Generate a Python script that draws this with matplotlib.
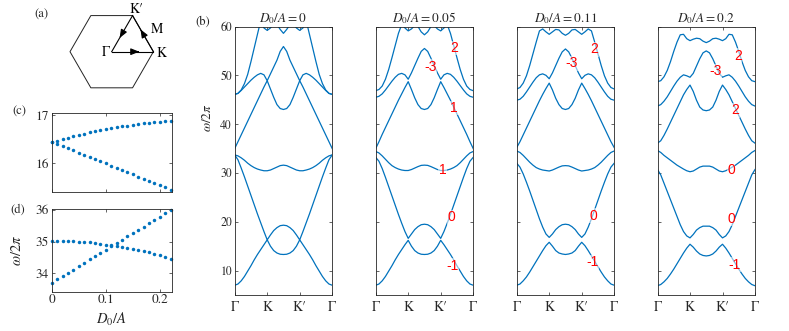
import numpy as np
import matplotlib
matplotlib.use('Agg')
import matplotlib.pyplot as plt

W, H = 789, 331
plt.rcParams['font.family'] = ['STIXGeneral', 'DejaVu Sans']
plt.rcParams['mathtext.fontset'] = 'stix'

BLUE = '#0072BD'
AXC = '#262626'

# ---------------- data ----------------
# path coordinate from Gamma (0) to M (1.5); K at 1.0; path is mirror-symmetric about M
k_half = [0.0, 0.1, 0.2, 0.3, 0.4, 0.5, 0.6, 0.7, 0.8, 0.9, 1.0, 1.1, 1.2, 1.3, 1.4, 1.5]
path_ticks = [0, 1, 2, 3]
path_labels = ['\u0393', 'K', 'K\u2032', '\u0393']

titles = [r'$D_0/A = 0$', r'$D_0/A = 0.05$', r'$D_0/A = 0.11$', r'$D_0/A = 0.2$']

# bands (omega/2pi) along Gamma -> K -> M, for each D0/A
bands_000 = [
    [7.0, 7.25, 7.9, 8.8, 9.9, 11.0, 12.2, 13.3, 14.3, 15.3, 16.3, 15.0, 14.1, 13.6, 13.35, 13.3],
    [33.7, 32.7, 31.0, 29.2, 27.3, 25.4, 23.5, 21.6, 19.8, 18.0, 16.3, 17.3, 18.2, 18.8, 19.2, 19.3],
    [33.7, 33.5, 33.1, 32.6, 32.0, 31.5, 31.1, 30.8, 30.6, 30.45, 30.45, 30.6, 30.9, 31.2, 31.5, 31.6],
    [35.0, 36.4, 37.8, 39.2, 40.6, 42.0, 43.4, 44.8, 46.2, 47.6, 48.9, 47.2, 45.5, 44.0, 43.2, 43.0],
    [46.1, 46.3, 46.9, 47.6, 48.3, 49.0, 49.6, 50.1, 50.4, 50.1, 48.9, 50.3, 51.7, 53.1, 54.9, 55.9],
    [46.1, 46.3, 47.0, 48.3, 50.2, 52.8, 55.6, 58.4, 61.2, 59.7, 59.2, 59.7, 60.5, 60.4, 59.4, 58.6],
]
bands_005 = [
    [7.0, 7.25, 7.9, 8.8, 9.9, 11.0, 12.2, 13.3, 14.3, 15.3, 16.2, 15.0, 14.1, 13.6, 13.35, 13.3],
    [33.2, 32.4, 30.9, 29.1, 27.2, 25.3, 23.4, 21.5, 19.7, 18.0, 16.6, 17.5, 18.4, 19.0, 19.4, 19.5],
    [34.4, 34.1, 33.5, 32.8, 32.1, 31.5, 31.1, 30.8, 30.6, 30.5, 30.5, 30.7, 31.0, 31.3, 31.55, 31.6],
    [35.0, 36.4, 37.9, 39.3, 40.7, 42.1, 43.5, 44.9, 46.2, 47.5, 48.7, 47.1, 45.4, 44.0, 43.2, 43.0],
    [45.5, 45.7, 46.2, 47.0, 47.9, 48.8, 49.6, 50.2, 50.4, 50.1, 49.2, 50.5, 52.0, 53.5, 54.9, 55.5],
    [46.85, 47.1, 47.8, 49.2, 51.2, 53.6, 56.1, 58.6, 60.4, 59.7, 59.1, 59.5, 60.2, 60.0, 58.9, 58.3],
]
bands_011 = [
    [7.0, 7.25, 7.9, 8.7, 9.7, 10.8, 11.9, 13.0, 14.1, 15.1, 15.8, 15.0, 14.1, 13.6, 13.4, 13.3],
    [32.0, 31.2, 29.8, 28.1, 26.3, 24.4, 22.5, 20.6, 18.9, 17.5, 16.8, 17.5, 18.4, 19.0, 19.4, 19.5],
    [34.5, 34.2, 33.6, 32.9, 32.2, 31.6, 31.1, 30.8, 30.6, 30.5, 30.4, 30.6, 30.9, 31.2, 31.45, 31.5],
    [35.2, 36.4, 37.8, 39.2, 40.6, 42.0, 43.4, 44.8, 46.1, 47.3, 48.4, 47.0, 45.3, 44.0, 43.2, 43.0],
    [44.9, 45.1, 45.7, 46.6, 47.6, 48.6, 49.5, 50.1, 50.3, 50.0, 49.3, 50.5, 52.0, 53.5, 54.8, 55.4],
    [47.2, 47.5, 48.4, 49.9, 52.0, 54.4, 56.8, 59.1, 59.5, 58.9, 58.4, 58.9, 59.4, 59.3, 58.6, 58.2],
]
bands_020 = [
    [6.9, 7.15, 7.7, 8.4, 9.3, 10.3, 11.4, 12.5, 13.6, 14.6, 15.4, 14.8, 14.0, 13.4, 13.1, 13.0],
    [30.7, 29.6, 27.9, 26.2, 24.5, 22.8, 21.1, 19.4, 18.0, 17.1, 16.7, 17.4, 18.3, 18.8, 19.1, 19.1],
    [34.6, 34.2, 33.6, 33.1, 32.6, 32.1, 31.6, 31.2, 30.8, 30.45, 30.25, 30.4, 30.8, 31.2, 31.4, 31.4],
    [36.1, 36.6, 37.7, 39.0, 40.4, 41.8, 43.2, 44.6, 46.0, 47.1, 48.0, 46.7, 44.9, 43.5, 42.9, 42.75],
    [43.7, 44.0, 44.7, 45.6, 46.7, 47.8, 48.8, 49.6, 50.1, 49.9, 49.6, 50.4, 51.9, 53.4, 54.6, 55.0],
    [48.7, 48.9, 49.7, 51.0, 52.8, 54.9, 56.8, 58.3, 58.4, 57.5, 57.1, 57.4, 57.6, 57.5, 57.0, 56.7],
]
all_bands = [bands_000, bands_005, bands_011, bands_020]

# Chern numbers written on panels 2-4
chern_005 = ['2', '-3', '1', '1', '0', '-1']
chern_011 = ['2', '-3', '0', '-1']
chern_020 = ['2', '-3', '2', '0', '0', '-1']
chern_pos_005 = [(2.41, 55.6), (1.68, 51.8), (2.41, 43.3), (2.05, 30.6), (2.33, 20.9), (2.36, 11.0)]
chern_pos_011 = [(2.39, 55.3), (1.70, 52.5), (2.36, 21.2), (2.32, 11.7)]
chern_pos_020 = [(2.47, 54.0), (1.78, 50.8), (2.39, 42.8), (2.26, 30.6), (2.26, 20.6), (2.36, 11.2)]

# panels (c) and (d): frequencies versus D0/A
d0_vals = [0.00, 0.01, 0.02, 0.03, 0.04, 0.05, 0.06, 0.07, 0.08, 0.09, 0.10, 0.11,
           0.12, 0.13, 0.14, 0.15, 0.16, 0.17, 0.18, 0.19, 0.20, 0.21, 0.22]
c_upper = [16.44, 16.47, 16.50, 16.53, 16.56, 16.59, 16.62, 16.65, 16.67, 16.69, 16.71, 16.73,
           16.75, 16.77, 16.78, 16.80, 16.81, 16.83, 16.84, 16.85, 16.86, 16.87, 16.88]
c_lower = [16.44, 16.40, 16.35, 16.31, 16.27, 16.22, 16.18, 16.13, 16.09, 16.04, 16.00, 15.95,
           15.91, 15.86, 15.82, 15.77, 15.72, 15.68, 15.63, 15.59, 15.54, 15.50, 15.45]
d_flat = [35.03, 35.03, 35.02, 35.02, 35.01, 35.00, 34.99, 34.98, 34.96, 34.94, 34.91, 34.89,
          34.86, 34.83, 34.80, 34.77, 34.73, 34.70, 34.66, 34.62, 34.57, 34.51, 34.45]
d_rise = [33.68, 33.81, 33.91, 34.02, 34.12, 34.23, 34.33, 34.44, 34.54, 34.65, 34.75, 34.85,
          34.96, 35.06, 35.17, 35.27, 35.38, 35.48, 35.58, 35.69, 35.79, 35.90, 36.00]


# ---------------- helpers ----------------
def fbox(x0, y0, x1, y1):
    return [x0 / W, 1 - y1 / H, (x1 - x0) / W, (y1 - y0) / H]


def style_axes(ax, fs):
    for s in ax.spines.values():
        s.set_color(AXC)
        s.set_linewidth(0.6)
    ax.tick_params(direction='in', length=2.5, width=0.5, colors=AXC, labelsize=fs,
                   top=True, right=True, pad=2)


fig = plt.figure(figsize=(W / 100, H / 100), dpi=100)

# full path (mirror about M)
k_full = np.concatenate([k_half, 3 - np.array(k_half[-2::-1])])

lefts = [234.7, 375.7, 516.7, 657.5]
pw = 97.5
chern_sets = [None, (chern_005, chern_pos_005), (chern_011, chern_pos_011),
              (chern_020, chern_pos_020)]
for i, (x0, bands) in enumerate(zip(lefts, all_bands)):
    ax = fig.add_axes(fbox(x0, 26.5, x0 + pw, 295))
    for b in bands:
        full = np.concatenate([b, b[-2::-1]])
        ax.plot(k_full, full, color=BLUE, lw=0.9)
    ax.set_xlim(0, 3)
    ax.set_ylim(5, 60)
    ax.set_xticks(path_ticks)
    ax.set_xticklabels(path_labels)
    ax.set_yticks([10, 20, 30, 40, 50, 60])
    style_axes(ax, 8.5)
    ax.tick_params(axis='x', labelsize=10, pad=4)
    if i > 0:
        ax.set_yticklabels([])
    ax.set_title(titles[i], fontsize=9.5, pad=3, color=AXC)
    if chern_sets[i] is not None:
        labs, pos = chern_sets[i]
        for t, (kx, wy) in zip(labs, pos):
            ax.text(kx, wy, t, color='#FF0000', fontsize=10, family='Liberation Sans',
                    ha='center', va='center',
                    bbox=dict(facecolor='white', alpha=0.55, edgecolor='none', pad=0.3))

# ylabel for (b)
fig.text(207 / W, 1 - 118 / H, r'$\omega/2\pi$', rotation=90, ha='center', va='center',
         fontsize=9.5, color=AXC)

# panel (c)
axc = fig.add_axes(fbox(51.7, 113.3, 171.5, 191.7))
axc.plot(d0_vals, c_upper, 'o', color=BLUE, ms=2.5, mec='none', clip_on=False)
axc.plot(d0_vals, c_lower, 'o', color=BLUE, ms=2.5, mec='none', clip_on=False)
axc.set_xlim(0, 0.2215)
axc.set_ylim(15.41, 17.04)
axc.set_xticks([0, 0.1, 0.2])
axc.set_xticklabels([])
axc.set_yticks([16, 17])
style_axes(axc, 9.5)

# panel (d)
axd = fig.add_axes(fbox(51.7, 208.5, 171.5, 291.7))
axd.plot(d0_vals, d_flat, 'o', color=BLUE, ms=2.5, mec='none', clip_on=False)
axd.plot(d0_vals, d_rise, 'o', color=BLUE, ms=2.5, mec='none', clip_on=False)
axd.set_xlim(0, 0.2215)
axd.set_ylim(33.42, 36.05)
axd.set_xticks([0, 0.1, 0.2])
axd.set_xticklabels(['0', '0.1', '0.2'])
axd.set_yticks([34, 35, 36])
style_axes(axd, 9.5)
axd.set_xlabel(r'$D_0/A$', fontsize=10.5, color=AXC, labelpad=3)
fig.text(17 / W, 1 - 250 / H, r'$\omega/2\pi$', rotation=90, ha='center', va='center',
         fontsize=10.5, color=AXC)

# panel labels
fig.text(41.7 / W, 1 - 15 / H, '(a)', ha='center', va='center', fontsize=9, color=AXC)
fig.text(203 / W, 1 - 22 / H, '(b)', ha='center', va='center', fontsize=9, color=AXC)
fig.text(19 / W, 1 - 112 / H, '(c)', ha='center', va='center', fontsize=9, color=AXC)
fig.text(18 / W, 1 - 210 / H, '(d)', ha='center', va='center', fontsize=9, color=AXC)

# panel (a): Brillouin zone sketch (pixel coordinates)
axa = fig.add_axes(fbox(0, 0, 200, 105))
axa.set_xlim(0, 200)
axa.set_ylim(105, 0)
axa.axis('off')
cx, cy, r = 111.7, 51.7, 41.7
ang = np.deg2rad(np.arange(0, 361, 60))
axa.plot(cx + r * np.cos(ang), cy - r * np.sin(ang), color='#222222', lw=0.7)
G = np.array([cx, cy])
Kp = np.array([cx + r, cy])
Kpr = np.array([cx + r * np.cos(np.pi / 3), cy - r * np.sin(np.pi / 3)])
for a, b, f in [(G, Kp, 0.66), (Kp, Kpr, 0.62), (Kpr, G, 0.62)]:
    axa.plot([a[0], b[0]], [a[1], b[1]], color='k', lw=0.8)
    head = a + f * (b - a)
    tail = a + (f - 0.05) * (b - a)
    axa.annotate('', xy=head, xytext=tail,
                 arrowprops=dict(arrowstyle='-|>,head_length=0.5,head_width=0.2',
                                 color='k', lw=0.8, shrinkA=0, shrinkB=0))
axa.text(106, 52.5, '\u0393', ha='center', va='center', fontsize=10)
axa.text(161.5, 53, 'K', ha='center', va='center', fontsize=10)
axa.text(157.5, 29, 'M', ha='center', va='center', fontsize=10)
axa.text(136.5, 9, 'K\u2032', ha='center', va='center', fontsize=10)

fig.savefig('out.png', dpi=100)
